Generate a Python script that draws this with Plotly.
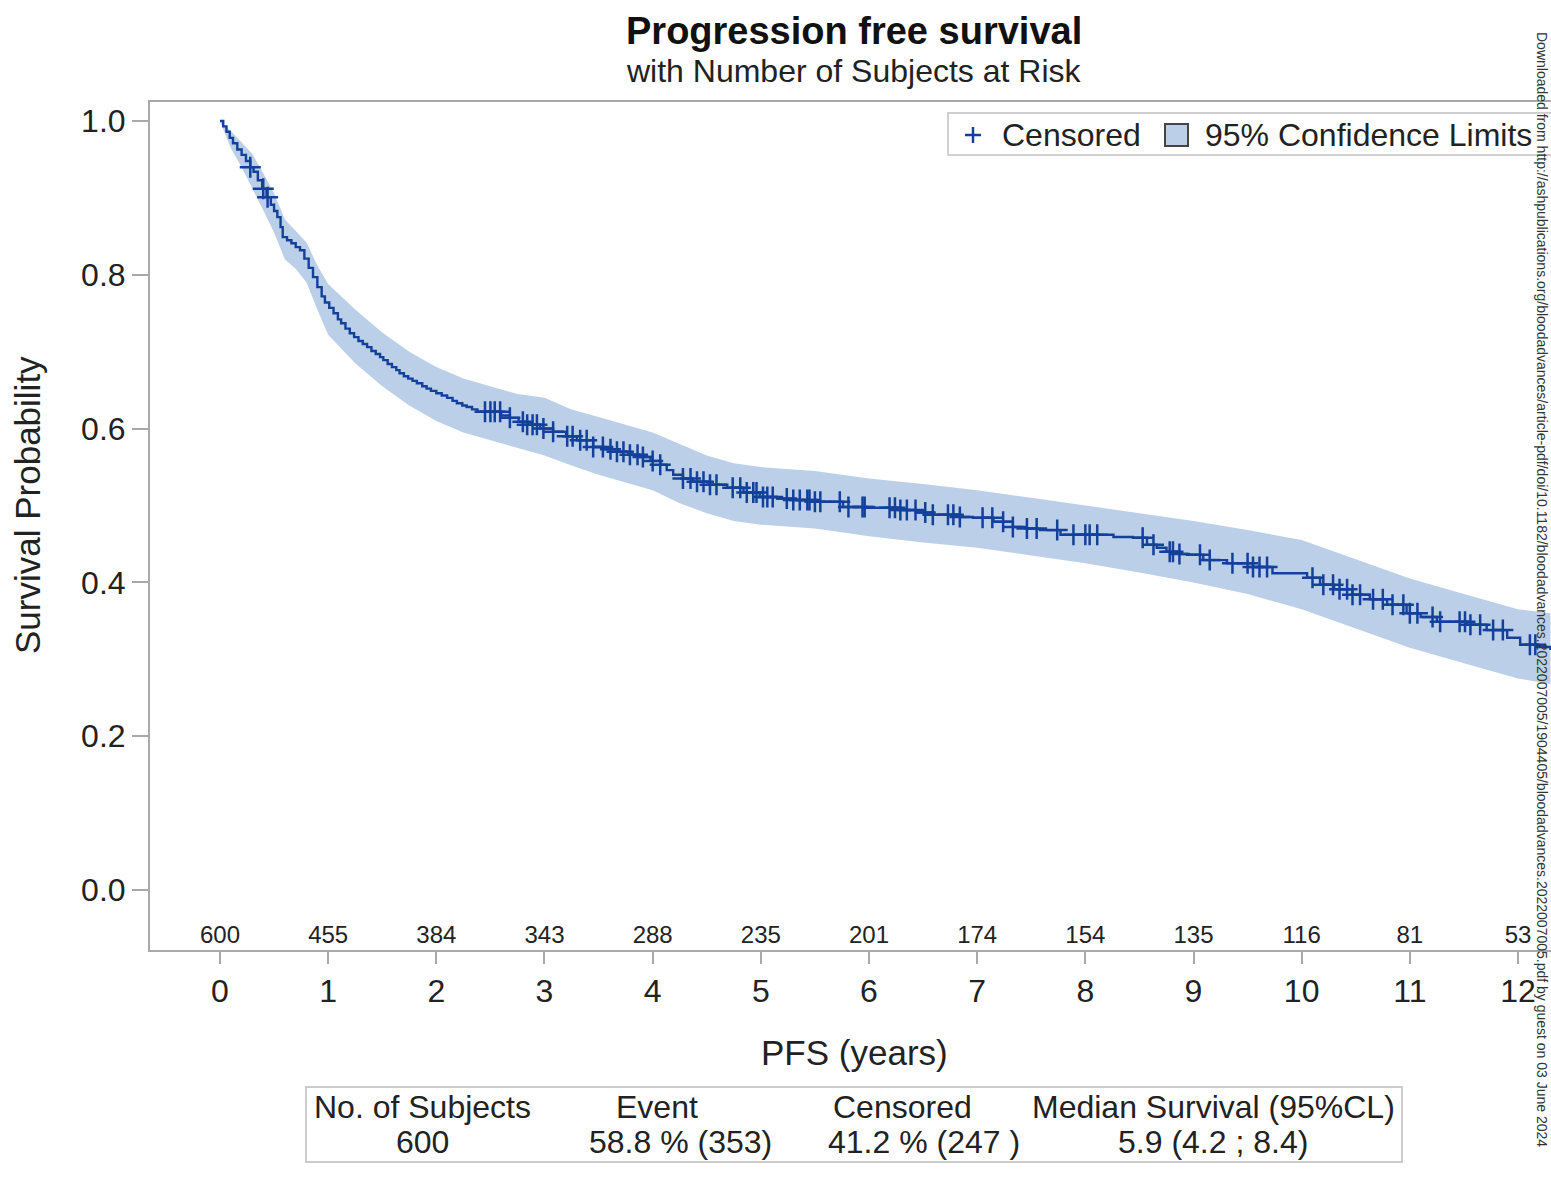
import numpy as np
import plotly.graph_objects as go

# ---------------- data ----------------
km_time = [0, 0.03, 0.06, 0.09, 0.12, 0.16, 0.20, 0.24, 0.28, 0.31, 0.35, 0.39, 0.43, 0.47,
           0.50, 0.53, 0.56, 0.58, 0.62, 0.66, 0.70, 0.74, 0.78, 0.82, 0.86, 0.90, 0.94, 0.97,
           1.01, 1.05, 1.09, 1.12, 1.16, 1.20, 1.24, 1.28, 1.32, 1.36, 1.40, 1.44, 1.48, 1.51,
           1.55, 1.59, 1.63, 1.66, 1.70, 1.74, 1.78, 1.82, 1.87, 1.91, 1.95, 2.00, 2.05, 2.10,
           2.15, 2.19, 2.24, 2.28, 2.33, 2.38,
           2.60, 2.68, 2.76, 2.84, 2.96, 3.08, 3.20, 3.30, 3.45, 3.56, 3.67, 3.78, 3.88,
           3.98, 4.07, 4.13, 4.19, 4.28, 4.37, 4.52, 4.69, 4.84, 4.99, 5.15, 5.30, 5.50, 5.76,
           5.98, 6.29, 6.45, 6.59, 6.84, 6.96, 7.15, 7.33, 7.45, 7.58, 7.77, 8.26, 8.44, 8.57,
           8.66, 8.75, 8.87, 8.94, 9.09, 9.31, 9.55, 9.73, 10.05, 10.17, 10.30, 10.47, 10.63,
           10.79, 10.97, 11.10, 11.25, 11.53, 11.71, 11.90, 12.02, 12.17, 12.30]
km_surv = [1.0, 0.993, 0.986, 0.978, 0.971, 0.963, 0.956, 0.948, 0.940, 0.934, 0.923, 0.912,
           0.901, 0.891, 0.883, 0.875, 0.862, 0.849, 0.845, 0.841, 0.836, 0.832, 0.821, 0.809,
           0.797, 0.784, 0.772, 0.764, 0.757, 0.750, 0.742, 0.737, 0.730, 0.724, 0.719, 0.714,
           0.710, 0.706, 0.701, 0.697, 0.693, 0.689, 0.684, 0.680, 0.676, 0.672, 0.668, 0.665,
           0.662, 0.659, 0.655, 0.652, 0.649, 0.646, 0.643, 0.640, 0.636, 0.633, 0.630, 0.628,
           0.625, 0.622,
           0.617, 0.614, 0.609, 0.605, 0.600, 0.596, 0.590,
           0.585, 0.576, 0.573, 0.570, 0.566, 0.563, 0.558, 0.553, 0.546, 0.540, 0.535, 0.531,
           0.527, 0.523, 0.517, 0.511, 0.509, 0.507, 0.505, 0.498, 0.497, 0.494, 0.491, 0.488,
           0.485, 0.484, 0.479, 0.472, 0.470, 0.468, 0.462, 0.459, 0.458, 0.449, 0.445, 0.440,
           0.437, 0.436, 0.429, 0.425, 0.420, 0.412, 0.406, 0.397, 0.391, 0.384, 0.378, 0.371,
           0.360, 0.355, 0.349, 0.345, 0.338, 0.328, 0.319, 0.316, 0.312]

ci_time = [0, 0.10, 0.20, 0.30, 0.40, 0.50, 0.60, 0.70, 0.80, 0.90, 1.00, 1.25, 1.50, 1.75,
           2.00, 2.25, 2.50, 2.75, 3.00, 3.25, 3.50, 3.75, 4.00, 4.25, 4.50, 4.75, 5.00, 5.50,
           6.00, 6.50, 7.00, 7.50, 8.00, 8.50, 9.00, 9.50, 10.00, 10.50, 11.00, 11.50, 12.00,
           12.30]
ci_upper = [1.0, 0.987, 0.972, 0.957, 0.932, 0.906, 0.872, 0.857, 0.842, 0.812, 0.788, 0.755,
            0.725, 0.700, 0.680, 0.665, 0.655, 0.645, 0.640, 0.625, 0.615, 0.605, 0.595, 0.580,
            0.565, 0.555, 0.550, 0.545, 0.535, 0.528, 0.520, 0.510, 0.500, 0.490, 0.480, 0.468,
            0.455, 0.430, 0.405, 0.385, 0.365, 0.360]
ci_lower = [1.0, 0.965, 0.940, 0.913, 0.884, 0.855, 0.820, 0.808, 0.790, 0.755, 0.722, 0.685,
            0.655, 0.630, 0.610, 0.595, 0.585, 0.575, 0.565, 0.552, 0.540, 0.530, 0.520, 0.503,
            0.490, 0.480, 0.475, 0.470, 0.460, 0.452, 0.445, 0.435, 0.425, 0.413, 0.400, 0.385,
            0.365, 0.340, 0.315, 0.295, 0.275, 0.268]

censor_times = [0.28, 0.40, 0.44,
                2.45, 2.50, 2.54, 2.59, 2.68, 2.80, 2.84, 2.89, 2.93, 2.99, 3.08, 3.21, 3.26,
                3.33, 3.39, 3.45, 3.54, 3.61, 3.67, 3.73, 3.79, 3.86, 3.91, 4.00, 4.07, 4.28,
                4.35, 4.41, 4.47, 4.53, 4.59, 4.74, 4.81, 4.87, 4.93, 4.96, 5.02, 5.06, 5.11,
                5.24, 5.30, 5.36, 5.43, 5.45, 5.50, 5.55, 5.73, 5.81, 5.94, 5.96, 6.19, 6.24,
                6.29, 6.35, 6.43, 6.52, 6.59, 6.73, 6.78, 6.84, 7.05, 7.14, 7.24, 7.33, 7.46,
                7.55, 7.74, 7.89, 8.00, 8.04, 8.11, 8.53, 8.63, 8.78, 8.81, 8.87, 9.06, 9.15,
                9.36, 9.50, 9.55, 9.61, 9.68, 10.10, 10.20, 10.29, 10.35, 10.42, 10.47, 10.54,
                10.66, 10.75, 10.84, 10.94, 11.00, 11.07, 11.21, 11.28, 11.46, 11.51, 11.56,
                11.65, 11.77, 11.86, 12.11, 12.16]

risk_time = [0, 1, 2, 3, 4, 5, 6, 7, 8, 9, 10, 11, 12]
risk_n = [600, 455, 384, 343, 288, 235, 201, 174, 154, 135, 116, 81, 53]

table_headers = ["No. of Subjects", "Event", "Censored", "Median Survival (95%CL)"]
table_values = ["600", "58.8 % (353)", "41.2 % (247 )", "5.9 (4.2 ; 8.4)"]

# ---------------- styling ----------------
W, H = 1551, 1178
L, R, T, B = 150, 0, 102, 228
FONT = "Liberation Sans, Arial, sans-serif"
TXT = "#222222"
LINE_BLUE = "#12409a"
BAND = "#bccfe8"
FRAME = "#a9a9a9"


def px(x):
    return (x - L) / (W - L - R)


def py(y):
    return (H - B - y) / (H - T - B)


km_t = np.array(km_time)
km_s = np.array(km_surv)
idx = np.searchsorted(km_t, np.array(censor_times), side="right") - 1
censor_y = km_s[idx]

fig = go.Figure()

fig.add_trace(go.Scatter(x=ci_time, y=ci_upper, mode="lines", line=dict(width=0),
                         hoverinfo="skip", showlegend=False))
fig.add_trace(go.Scatter(x=ci_time, y=ci_lower, mode="lines", line=dict(width=0),
                         fill="tonexty", fillcolor=BAND, hoverinfo="skip", showlegend=False))
fig.add_trace(go.Scatter(x=km_time, y=km_surv, mode="lines",
                         line=dict(color=LINE_BLUE, width=2.4, shape="hv"), showlegend=False))
fig.add_trace(go.Scatter(x=censor_times, y=censor_y, mode="markers",
                         marker=dict(symbol="cross-thin", size=15,
                                     line=dict(color=LINE_BLUE, width=2.5)),
                         showlegend=False))
fig.add_trace(go.Scatter(x=risk_time, y=[-0.061] * len(risk_time), mode="text",
                         text=[str(n) for n in risk_n],
                         textfont=dict(family=FONT, size=24, color=TXT),
                         cliponaxis=False, showlegend=False))

fig.update_xaxes(range=[-0.647, 12.305], tickvals=list(range(13)), ticks="outside",
                 ticklen=12, tickwidth=1.5, tickcolor=FRAME, showline=True, linecolor=FRAME,
                 linewidth=2, mirror=True, showgrid=False, zeroline=False,
                 tickfont=dict(family=FONT, size=32, color=TXT))
fig.update_yaxes(range=[-0.078, 1.0247], tickvals=[0, 0.2, 0.4, 0.6, 0.8, 1.0],
                 tickformat=".1f", ticks="outside", ticklen=16, tickwidth=1.5, tickcolor=FRAME,
                 showline=True, linecolor=FRAME, linewidth=2, showgrid=False, zeroline=False,
                 tickfont=dict(family=FONT, size=32, color=TXT))

ann = []
ann.append(dict(text="<b>Progression free survival</b>", x=px(854), y=py(31),
                font=dict(family=FONT, size=38, color="#111111")))
ann.append(dict(text="with Number of Subjects at Risk", x=px(854), y=py(71),
                font=dict(family=FONT, size=32, color=TXT)))
ann.append(dict(text="PFS (years)", x=px(854), y=py(1052),
                font=dict(family=FONT, size=35, color=TXT)))
ann.append(dict(text="Survival Probability", x=px(27), y=py(505), textangle=-90,
                font=dict(family=FONT, size=35, color=TXT)))
# legend texts
ann.append(dict(text="Censored", x=px(1000), y=py(135), xanchor="left",
                font=dict(family=FONT, size=32, color=TXT)))
ann.append(dict(text="95% Confidence Limits", x=px(1203), y=py(135), xanchor="left",
                font=dict(family=FONT, size=32, color=TXT)))
# table
hdr_x = [422, 657, 902, 1213]
val_x = [422, 680, 924, 1213]
for hx, vx, h, v in zip(hdr_x, val_x, table_headers, table_values):
    ann.append(dict(text=h, x=px(hx), y=py(1107), font=dict(family=FONT, size=32, color=TXT)))
    ann.append(dict(text=v, x=px(vx), y=py(1142), font=dict(family=FONT, size=32, color=TXT)))
# watermark (kept fully inside the page)
ann.append(dict(text="Downloaded from http://ashpublications.org/bloodadvances/article-pdf/doi/10.1182/"
                     "bloodadvances.2022007005/1904405/bloodadvances.2022007005.pdf by guest on 03 June 2024",
                x=px(1542), y=py(589), textangle=90,
                font=dict(family=FONT, size=14, color="#333333")))
for a in ann:
    a.setdefault("xref", "paper")
    a.setdefault("yref", "paper")
    a.setdefault("showarrow", False)
    a.setdefault("xanchor", "center")
    a.setdefault("yanchor", "middle")

shapes = [
    # legend box
    dict(type="rect", xref="paper", yref="paper", x0=px(948), x1=px(1575), y0=py(155), y1=py(113),
         line=dict(color="#d0d0d0", width=2), fillcolor="rgba(255,255,255,0)"),
    dict(type="line", xref="paper", yref="paper", x0=px(965), x1=px(981), y0=py(135), y1=py(135),
         line=dict(color=LINE_BLUE, width=2.5)),
    dict(type="line", xref="paper", yref="paper", x0=px(973), x1=px(973), y0=py(127), y1=py(143),
         line=dict(color=LINE_BLUE, width=2.5)),
    dict(type="rect", xref="paper", yref="paper", x0=px(1165), x1=px(1188), y0=py(146), y1=py(124),
         line=dict(color="#444444", width=2), fillcolor=BAND),
    # table box
    dict(type="rect", xref="paper", yref="paper", x0=px(306), x1=px(1402), y0=py(1162), y1=py(1087),
         line=dict(color="#cccccc", width=2), fillcolor="rgba(255,255,255,0)"),
]

fig.update_layout(width=W, height=H, margin=dict(l=L, r=R, t=T, b=B, pad=0),
                  plot_bgcolor="white", paper_bgcolor="white", annotations=ann, shapes=shapes,
                  showlegend=False, font=dict(family=FONT, color=TXT))

fig.write_html("out.html")
